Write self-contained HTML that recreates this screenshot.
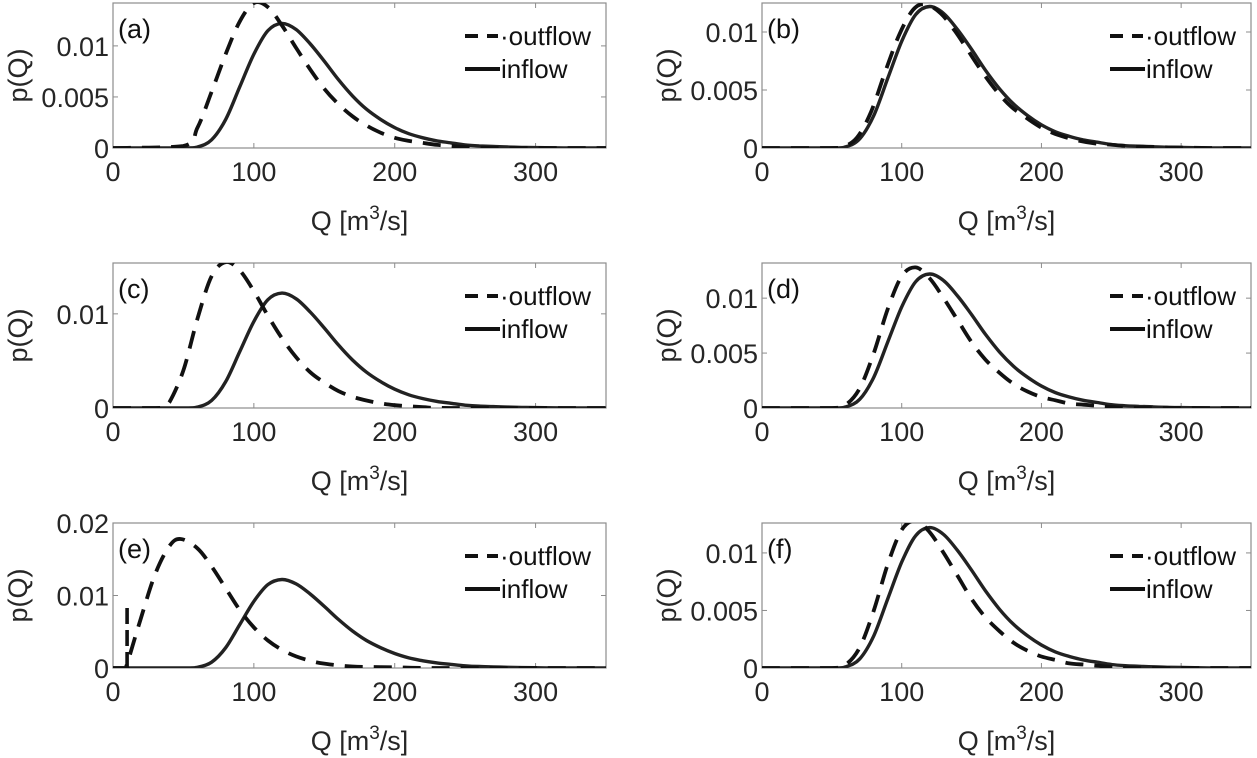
<!DOCTYPE html>
<html><head><meta charset="utf-8">
<style>
body{margin:0;background:#fff;}
svg{display:block;font-family:"Liberation Sans",Arial,sans-serif;}
</style></head>
<body>
<svg id="fig" width="1257" height="758" viewBox="0 0 1257 758" xmlns="http://www.w3.org/2000/svg"></svg>
<script>
// ---- data ----
const inflowQ = [0,50,60,70,80,90,100,110,120,130,140,150,160,170,180,190,200,210,220,230,240,250,260,270,280,290,300,320,350];
const inflowP = [0,0,0.0001,0.0008,0.0028,0.0060,0.0092,0.0115,0.0122,0.0116,0.0102,0.0085,0.0067,0.0051,0.0038,0.0028,0.0020,0.0014,0.0010,0.0007,0.0005,0.0003,0.0002,0.00015,0.0001,0.00006,0.00004,0,0];
const outAQ = [0,50,60,70,80,90,100,110,120,130,140,150,160,170,180,190,200,210,220,230,240,250,270,350];
const outAP = [0,0.0002,0.0020,0.0055,0.0092,0.0124,0.0142,0.0138,0.0120,0.0098,0.0077,0.0058,0.0043,0.0031,0.0022,0.0015,0.0010,0.0007,0.0005,0.0003,0.0002,0.0001,0,0];
const outBQ = [0,48,58,68,78,88,98,108,117,128,138,148,158,168,178,188,198,208,218,228,238,248,258,268,278,288,298,320,350];
const outBP = [0,0,0.0001,0.0009,0.0031,0.0065,0.0097,0.0119,0.0124,0.0116,0.0101,0.0083,0.0065,0.0049,0.0036,0.0027,0.0019,0.0013,0.0009,0.0006,0.0004,0.0003,0.0002,0.00014,0.0001,0.00006,0.00004,0,0];
const outCQ = [0,30,35,40,50,60,70,80,90,100,110,120,130,140,150,160,170,180,190,200,220,240,350];
const outCP = [0,0,0.0001,0.0006,0.0040,0.0095,0.0140,0.0155,0.0146,0.0124,0.0098,0.0074,0.0054,0.0038,0.0027,0.0018,0.0012,0.0008,0.0005,0.0003,0.0001,0,0];
const outDQ = [0,50,60,70,80,90,100,110,120,130,140,150,160,170,180,190,200,210,220,230,240,250,270,350];
const outDP = [0,0,0.0003,0.0018,0.0050,0.0090,0.0120,0.0128,0.0118,0.0100,0.0080,0.0060,0.0044,0.0032,0.0022,0.0015,0.0010,0.0007,0.0004,0.0003,0.0002,0.0001,0,0];
const outEQ = [0,9.9,10,20,30,40,48,60,70,80,90,100,110,120,130,140,150,170,200,230,350];
const outEP = [0,0,0.0005,0.0070,0.0130,0.0168,0.0178,0.0165,0.0140,0.0110,0.0080,0.0056,0.0038,0.0025,0.0016,0.0010,0.0006,0.0002,0.0001,0,0];
const spikeE = [10, 0.0085];
const xTicks = [0,100,200,300];
const panelLabels = ['(a)','(b)','(c)','(d)','(e)','(f)'];
const yMaxes = [0.0142,0.0125,0.0154,0.0132,0.0200,0.0126];
const yTickSets = [[0,0.005,0.01],[0,0.005,0.01],[0,0.01],[0,0.005,0.01],[0,0.01,0.02],[0,0.005,0.01]];
const yTickLabels = [['0','0.005','0.01'],['0','0.005','0.01'],['0','0.01'],['0','0.005','0.01'],['0','0.01','0.02'],['0','0.005','0.01']];
const outflows = [[outAQ,outAP],[outBQ,outBP],[outCQ,outCP],[outDQ,outDP],[outEQ,outEP],[outDQ,outDP]];

const NS='http://www.w3.org/2000/svg';
const svg=document.getElementById('fig');
function mk(tag,attrs,parent){const e=document.createElementNS(NS,tag);for(const k in attrs)e.setAttribute(k,attrs[k]);(parent||svg).appendChild(e);return e;}

const cols=[[113,606],[762,1251]];
const rows=[[3,148],[263,408],[523,668]];
const panelNames=['panel-a','panel-b','panel-c','panel-d','panel-e','panel-f'];

function pathFrom(xs,ys,sx,sy){
  const pts=xs.map((q,i)=>[sx(q),sy(ys[i])]);
  let d='M'+pts[0][0].toFixed(1)+','+pts[0][1].toFixed(1);
  for(let i=0;i<pts.length-1;i++){
    const p0=pts[Math.max(i-1,0)],p1=pts[i],p2=pts[i+1],p3=pts[Math.min(i+2,pts.length-1)];
    const t=6;
    let c1y=p1[1]+(p2[1]-p0[1])/t, c2y=p2[1]-(p3[1]-p1[1])/t;
    const c1x=p1[0]+(p2[0]-p0[0])/t, c2x=p2[0]-(p3[0]-p1[0])/t;
    const lo=Math.max(p1[1],p2[1]);
    if(p1[1]===p2[1]){c1y=p1[1];c2y=p2[1];}
    d+=' C'+c1x.toFixed(1)+','+Math.min(c1y,lo).toFixed(1)+' '+c2x.toFixed(1)+','+Math.min(c2y,lo).toFixed(1)+' '+p2[0].toFixed(1)+','+p2[1].toFixed(1);
  }
  return d;
}

for(let p=0;p<6;p++){
  const [x0,x1]=cols[p%2], [y0,y1]=rows[Math.floor(p/2)];
  const ymax=yMaxes[p];
  const sx=q=>x0+(q/350)*(x1-x0);
  const sy=v=>y1-(v/ymax)*(y1-y0);
  const g=mk('g',{});
  
  
  const cid='clip'+p;
  const cp=mk('clipPath',{id:cid},g);mk('rect',{x:x0,y:y0,width:x1-x0,height:y1-y0},cp);
  const box=mk('rect',{x:x0,y:y0,width:x1-x0,height:y1-y0,fill:'#fff',stroke:'#8c8c8c','stroke-width':1.2},g);
  
  
  xTicks.forEach(t=>{
    const X=sx(t);
    mk('line',{x1:X,y1:y1,x2:X,y2:y1-5,stroke:'#8c8c8c'},g);
    mk('line',{x1:X,y1:y0,x2:X,y2:y0+5,stroke:'#8c8c8c'},g);
    const tx=mk('text',{x:X,y:y1+33,'font-size':27,fill:'#262626','text-anchor':'middle'},g);
    tx.textContent=t;
    
    
  });
  yTickSets[p].forEach((t,i)=>{
    const Y=sy(t);
    mk('line',{x1:x0,y1:Y,x2:x0+5,y2:Y,stroke:'#8c8c8c'},g);
    mk('line',{x1:x1,y1:Y,x2:x1-5,y2:Y,stroke:'#8c8c8c'},g);
    const ty=mk('text',{x:x0-4,y:Y+10,'font-size':27,fill:'#262626','text-anchor':'end'},g);
    ty.textContent=yTickLabels[p][i];
    
    
  });
  const inP=mk('path',{d:pathFrom(inflowQ,inflowP,sx,sy),fill:'none',stroke:'#222','stroke-width':3.4,'clip-path':'url(#'+cid+')'},g);
  
  
  const [oq,op]=outflows[p];
  const outL=mk('path',{d:pathFrom(oq,op,sx,sy),fill:'none',stroke:'#111','stroke-width':3.8,'stroke-dasharray':'18,11','clip-path':'url(#'+cid+')'},g);
  
  
  if(p===4){
    const sp=mk('line',{x1:sx(spikeE[0]),y1:sy(0),x2:sx(spikeE[0]),y2:sy(spikeE[1]),stroke:'#111','stroke-width':3.6,'stroke-dasharray':'16,6'},g);
    
    
  }
  const pl=mk('text',{x:x0+5,y:y0+35,'font-size':27,fill:'#111'},g);
  pl.textContent=panelLabels[p];
  
  
  const lg=mk('g',{},g);
  
  
  mk('line',{x1:x1-141,y1:y0+33,x2:x1-108,y2:y0+33,stroke:'#111','stroke-width':4,'stroke-dasharray':'13,9'},lg);
  const t1=mk('text',{x:x1-106,y:y0+42,'font-size':26,fill:'#111'},lg);t1.textContent='\u00b7outflow';
  
  
  mk('line',{x1:x1-141,y1:y0+66,x2:x1-106,y2:y0+66,stroke:'#111','stroke-width':4},lg);
  const t2=mk('text',{x:x1-105,y:y0+75,'font-size':26,fill:'#111'},lg);t2.textContent='inflow';
  
  
  const xt=mk('text',{x:(x0+x1)/2,y:y1+82,'font-size':27,fill:'#262626','text-anchor':'middle'},g);
  
  
  xt.innerHTML='Q [m<tspan dy="-11" font-size="19">3</tspan><tspan dy="11">/s]</tspan>';
  const cy=(y0+y1)/2;
  const yt=mk('text',{x:0,y:0,'font-size':27,fill:'#262626','text-anchor':'middle',transform:'translate('+(x0-86)+','+cy+') rotate(-90)'},g);
  yt.textContent='p(Q)';
  
  
}
</script>
</body></html>
